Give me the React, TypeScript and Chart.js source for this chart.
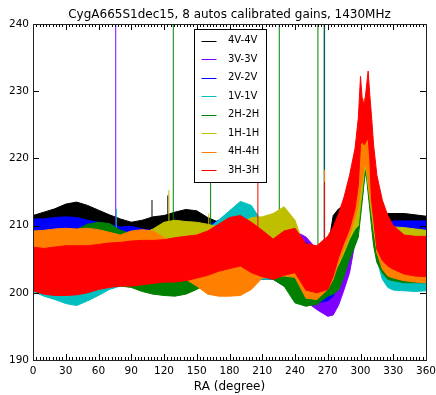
import React, { useEffect, useRef } from "react";
import { Chart, registerables } from "chart.js";

Chart.register(...registerables);

const FONT = "DejaVu Sans";
const TITLE = "CygA665S1dec15, 8 autos calibrated gains, 1430MHz";
const X_TITLE = "RA (degree)";
const X_TICKS = [0, 30, 60, 90, 120, 150, 180, 210, 240, 270, 300, 330, 360];
const Y_TICKS = [190, 200, 210, 220, 230, 240];
const X_MINOR_STEP = 3;

const LABELS = ["4V-4V", "3V-3V", "2V-2V", "1V-1V", "2H-2H", "1H-1H", "4H-4H", "3H-3H"];
const COLORS = ["#000000", "#7f00ff", "#0000ff", "#00bfbf", "#008000", "#bfbf00", "#ff7f00", "#ff0000"];

// RA sample positions (degrees) of the envelope of each noisy trace
const RA = [0, 10, 20, 30, 40, 50, 60, 70, 80, 90, 100, 110, 120, 130, 140, 150, 160, 170, 180, 190,
  200, 210, 220, 230, 240, 250, 260, 270, 275, 280, 285, 290, 295, 298, 300, 301.5, 303.5, 305, 307,
  308.5, 310, 312, 315, 320, 325, 330, 340, 350, 360];

// upper / lower envelopes of each trace
const hi4V = [211.5, 212, 212.5, 213.2, 213.5, 213, 212.3, 211.6, 211, 210.5,
  210.8, 211.3, 211.5, 212, 212.4, 212.2, 211.2, 210.5, 210.3, 210.3,
  210.5, 210, 209.5, 209, 208, 206, 205.5, 206.5,
  211.5, 212.5, 213, 214, 216, 219, 222, 222.5, 223, 223, 223,
  220.5, 218, 215, 211.8, 211.5, 211.8, 211.8, 211.8, 211.6, 211.4];
const lo4V = [203, 203, 203, 203, 203, 203, 203, 203, 203, 203,
  203, 203, 203, 203, 203, 203, 203, 203, 203, 203,
  203, 203, 203, 203, 203, 203, 203, 203,
  203, 204, 206, 208, 211, 213, 215, 216, 218, 218, 217,
  215, 213, 211, 207, 204, 203, 203, 203, 203, 203];

const hi3V = [206, 206, 206, 206, 206, 206, 206, 206, 206, 206,
  206, 206, 206, 206, 206, 206, 206, 206, 206, 206,
  206, 206, 206, 207, 209.2, 208.3, 206.5, 206,
  206.5, 207.5, 209, 211, 214, 216, 218, 219, 219.5, 219.5, 219.5,
  217.5, 214.5, 212, 208, 206, 206, 206, 206, 206, 206];
const lo3V = [202, 202, 202, 202, 202, 202, 202, 202, 202, 202,
  202, 202, 202, 202, 202, 202, 202, 202, 202, 202,
  202, 202, 202, 202, 200, 198.7, 197.5, 196.5,
  196.7, 198.2, 200.5, 203, 207.5, 211, 213, 214.5, 218.5, 218.5, 216.5,
  215, 213, 211, 207, 204, 203, 203, 203, 203, 203];

const hi2V = [211, 211, 211.2, 211.3, 211.2, 210.8, 210.5, 210.2, 209.8, 209.9,
  209.5, 209.3, 209.3, 209.3, 209.3, 209.5, 210, 210.8, 211, 211,
  210.5, 210, 209.5, 209, 208.5, 207.5, 206.5, 206.5,
  207.5, 208.5, 210, 212, 214.5, 216.5, 219, 220, 220.5, 220.5, 220.5,
  218.5, 215.5, 213, 209.5, 210, 210.5, 210.7, 210.7, 210.7, 210.7];
const lo2V = [202, 202, 202, 202, 202, 202, 202, 202, 202, 202,
  202, 202, 202, 202, 202, 202, 202, 202, 202, 202,
  202, 202, 202, 201, 199.5, 199, 198.5, 198.8,
  199.5, 201, 203, 205.5, 208.5, 211, 213, 214, 217, 218.5, 216,
  215, 213, 211, 207, 204, 203, 203, 203, 203, 203];

const hi1V = [207.5, 207.5, 207.5, 207.5, 207.5, 207.5, 207.5, 208, 208, 208,
  208, 208, 208, 208, 208, 208, 209.5, 210.8, 212.2, 213.6,
  213, 210.5, 209, 208.5, 207.5, 205.5, 205, 205,
  206, 207.5, 209.5, 212, 215, 217, 220, 220.5, 221, 221, 221,
  219, 216, 213.5, 210, 208, 207.5, 207.5, 207.5, 207.5, 207.5];
const lo1V = [200.2, 199.5, 199, 198.4, 198.1, 198.8, 199.6, 200.5, 201, 201.2,
  201.5, 201.5, 201.5, 201.5, 201.5, 201.5, 201.8, 202, 202, 202,
  202, 202, 202, 202, 202, 201.5, 201.5, 202,
  203, 204.5, 206.5, 209, 212, 214, 216, 217, 219, 219, 218,
  216, 212.5, 210, 205, 202, 200.8, 200.4, 200.3, 200.2, 200.3];

const hi2H = [208.5, 208.5, 208.7, 209, 209.4, 210.2, 210.5, 210.3, 209.3, 208.8,
  208.5, 208, 207.5, 207, 207, 207, 207.5, 208.5, 209, 209.2,
  209, 208.5, 208, 207.5, 206.5, 205, 204.5, 204.5,
  205, 206, 207.5, 210, 213.5, 216.5, 220, 221, 222, 221.5, 221,
  218.5, 215.5, 213, 210, 208.5, 208.3, 208.5, 208.5, 208.5, 208.5];
const lo2H = [201, 201, 201, 201, 201, 201, 201, 201, 201, 200.8,
  200.2, 199.8, 199.6, 199.5, 199.8, 200.5, 201.5, 202.5, 203, 203,
  202.8, 202.5, 202, 201, 198.5, 198, 198.3, 199.5,
  199.8, 200.4, 202.5, 205, 207, 208.3, 211.3, 213.5, 216.8, 218, 214.8,
  212.5, 210, 207, 204.5, 203, 202, 201.8, 201.5, 201.5, 201.5];

const hi1H = [207.5, 207.5, 207.5, 207.5, 207.5, 207.5, 207.5, 207.5, 208, 208.5,
  208.8, 209.5, 210.5, 210.8, 210.6, 210.5, 210.2, 209.8, 209.5, 210,
  211.2, 211.3, 211.8, 212.8, 210.8, 206, 205, 204.5,
  205, 206.5, 208.5, 211.5, 215, 218, 222, 223, 224, 223.5, 223,
  220, 217, 214.5, 211.5, 209.8, 209.6, 209.8, 209.7, 209.5, 209.3];
const lo1H = [202.5, 202.5, 202.5, 202.5, 202.5, 202.5, 202.5, 202.5, 202.5, 202.5,
  202.5, 202.5, 202.5, 202.5, 202.5, 202.5, 202.5, 203, 203.5, 204,
  203.5, 203, 203, 203, 203, 200.5, 200.5, 201,
  202.8, 204.2, 206, 208, 209.5, 210, 213, 215, 218, 218.5, 216,
  214, 212, 209.5, 206, 204, 203, 202.8, 202.5, 202.5, 202.5];

const hi4H = [209.2, 209.3, 209.5, 209.6, 209.5, 209.6, 209.4, 209, 208.6, 209.2,
  209.4, 209.2, 208.2, 207, 206.8, 206.5, 206.5, 206.5, 206.8, 207,
  206.5, 206, 205.5, 206, 206.5, 205, 204.5, 205,
  206, 208, 210.5, 213, 217, 220, 226, 227, 229, 228, 228.5,
  226, 222, 218, 213, 209.5, 208, 207.5, 207.3, 207.2, 207.2];
const lo4H = [203, 203, 203, 203, 203, 203, 203, 203, 203, 203,
  203, 203, 203, 202.5, 202, 201, 199.8, 199.5, 199.5, 199.6,
  200.5, 202.2, 202.3, 202.5, 202.3, 199.2, 199, 200.5,
  202, 204.5, 206.5, 208.5, 211, 213, 215.5, 216.5, 218.8, 219, 217,
  215, 213, 211, 206, 203.5, 202.5, 202.2, 201.8, 201.6, 201.5];

const hi3H = [206.8, 206.6, 206.8, 207, 207, 207, 207.2, 207.4, 207.5, 207.7,
  207.8, 207.8, 207.9, 208.2, 208.4, 208.6, 209.2, 210.2, 211.2, 211.5,
  210.5, 209.3, 208, 209.2, 209.6, 207.3, 207, 208.4,
  209.8, 211.8, 214.3, 217.5, 221.5, 226, 232.2, 229, 227.7, 230, 233,
  229.5, 226.5, 222, 217.5, 213.8, 211.5, 210, 208.6, 208.4, 208.4];
const lo3H = [200.3, 199.8, 199.6, 199.6, 199.7, 200, 200.5, 200.8, 201, 201,
  201.2, 201.4, 201.6, 201.6, 201.8, 202.2, 202.6, 203.2, 203.6, 204,
  203, 202.4, 202, 202.6, 203, 200.4, 200, 200.5,
  202.5, 205.3, 207.5, 209.5, 212.5, 216, 222, 222.5, 222, 222.5, 223,
  220, 214, 211, 206.5, 204.8, 204, 203.5, 202.8, 202.5, 202.4];

const HI = [hi4V, hi3V, hi2V, hi1V, hi2H, hi1H, hi4H, hi3H];
const LO = [lo4V, lo3V, lo2V, lo1V, lo2H, lo1H, lo4H, lo3H];

// narrow spikes (index of trace, RA, low value, high value)
const spikeTrace = [1, 3, 0, 0, 5, 4, 5, 4, 7, 4, 4, 4, 2, 6, 7];
const spikeRA = [75.8, 76.3, 109, 123.5, 124.5, 128.5, 161, 162.7, 206, 225.6, 261, 266.7, 267.1, 267, 267];
const spikeLow = [210, 209, 210, 210, 209, 208, 209, 209, 209, 210, 198, 200, 200, 205, 205];
const spikeHigh = [241, 212.5, 213.8, 214.5, 215.3, 241, 211.8, 232, 232, 241, 241, 241, 241, 218.3, 216.5];

const decor = {
  id: "decor",
  afterDraw(chart: any) {
    const { ctx, chartArea } = chart;
    const { left, right, top, bottom } = chartArea;
    const xs = chart.scales.x;
    const ys = chart.scales.y;
    ctx.save();
    ctx.strokeStyle = "#000";
    ctx.lineWidth = 1;
    ctx.beginPath();
    for (let v = 0; v <= 360; v += X_MINOR_STEP) {
      const px = Math.round(xs.getPixelForValue(v)) + 0.5;
      const len = X_TICKS.includes(v) ? 6 : 3;
      ctx.moveTo(px, bottom);
      ctx.lineTo(px, bottom - len);
      ctx.moveTo(px, top);
      ctx.lineTo(px, top + len);
    }
    for (const v of Y_TICKS) {
      const py = Math.round(ys.getPixelForValue(v)) + 0.5;
      ctx.moveTo(left, py);
      ctx.lineTo(left + 6, py);
      ctx.moveTo(right, py);
      ctx.lineTo(right - 6, py);
    }
    ctx.stroke();
    ctx.strokeStyle = "#222";
    ctx.strokeRect(Math.round(left) + 0.5, Math.round(top) + 0.5, Math.round(right - left), Math.round(bottom - top));

    // title
    ctx.fillStyle = "#000";
    ctx.font = `12px "${FONT}"`;
    ctx.textAlign = "center";
    ctx.textBaseline = "middle";
    ctx.fillText(TITLE, (left + right) / 2, 15);

    // legend
    const bx = 194.5, by = 29.5, bw = 72, bh = 153;
    ctx.fillStyle = "#fff";
    ctx.fillRect(bx, by, bw, bh);
    ctx.strokeStyle = "#000";
    ctx.strokeRect(bx, by, bw, bh);
    ctx.font = `10px "${FONT}"`;
    ctx.textAlign = "left";
    LABELS.forEach((lab, i) => {
      const yy = 40.7 + i * 18.47;
      ctx.strokeStyle = COLORS[i];
      ctx.beginPath();
      ctx.moveTo(201.5, Math.round(yy) + 0.5);
      ctx.lineTo(216.5, Math.round(yy) + 0.5);
      ctx.stroke();
      ctx.fillStyle = "#000";
      ctx.fillText(lab, 228, yy);
    });
    ctx.restore();
  },
};

export default function App() {
  const ref = useRef<HTMLCanvasElement>(null);
  useEffect(() => {
    if (!ref.current) return;
    const datasets: any[] = [];
    LABELS.forEach((lab, i) => {
      const order = 100 - i * 10;
      datasets.push({
        label: lab,
        data: RA.map((x, k) => ({ x, y: HI[i][k] })),
        borderColor: COLORS[i],
        backgroundColor: COLORS[i],
        borderWidth: 1,
        pointRadius: 0,
        fill: "+1",
        order,
      });
      datasets.push({
        label: lab + " low",
        data: RA.map((x, k) => ({ x, y: LO[i][k] })),
        borderColor: COLORS[i],
        backgroundColor: COLORS[i],
        borderWidth: 1,
        pointRadius: 0,
        fill: false,
        order,
      });
    });
    spikeRA.forEach((x, k) => {
      const t = spikeTrace[k];
      datasets.push({
        label: LABELS[t] + " spike",
        data: [{ x, y: spikeLow[k] }, { x, y: spikeHigh[k] }],
        borderColor: COLORS[t],
        borderWidth: 1,
        pointRadius: 0,
        fill: false,
        order: 100 - t * 10 + 1,
      });
    });

    const chart = new Chart(ref.current, {
      type: "line",
      data: { datasets },
      options: {
        animation: false,
        responsive: false,
        devicePixelRatio: 1,
        layout: { padding: { top: 24, right: 10, left: 0, bottom: 0 } },
        elements: { line: { tension: 0 }, point: { radius: 0 } },
        plugins: {
          legend: { display: false },
          title: { display: false },
          tooltip: { enabled: false },
        },
        scales: {
          x: {
            type: "linear",
            min: 0,
            max: 360,
            afterBuildTicks: (s: any) => {
              s.ticks = X_TICKS.map((v) => ({ value: v }));
            },
            grid: { display: false, drawTicks: false },
            border: { display: false },
            ticks: { color: "#000", font: { family: FONT, size: 10.5 }, padding: 5, maxRotation: 0, autoSkip: false },
            title: { display: true, text: X_TITLE, color: "#000", font: { family: FONT, size: 12 }, padding: { top: 0, bottom: 1 } },
            afterFit: (s: any) => {
              s.height = 35;
              s.paddingLeft = 0;
              s.paddingRight = 0;
            },
          },
          y: {
            type: "linear",
            min: 190,
            max: 240,
            afterBuildTicks: (s: any) => {
              s.ticks = Y_TICKS.map((v) => ({ value: v }));
            },
            grid: { display: false, drawTicks: false },
            border: { display: false },
            ticks: { color: "#000", font: { family: FONT, size: 10.5 }, padding: 4 },
            afterFit: (s: any) => {
              s.width = 33;
              s.paddingTop = 0;
              s.paddingBottom = 0;
            },
          },
        },
      },
      plugins: [decor],
    } as any);
    return () => chart.destroy();
  }, []);

  return (
    <div style={{ position: "absolute", left: 0, top: 0, width: 436, height: 395, background: "#fff" }}>
      <canvas ref={ref} width={436} height={395} style={{ display: "block" }} />
    </div>
  );
}
